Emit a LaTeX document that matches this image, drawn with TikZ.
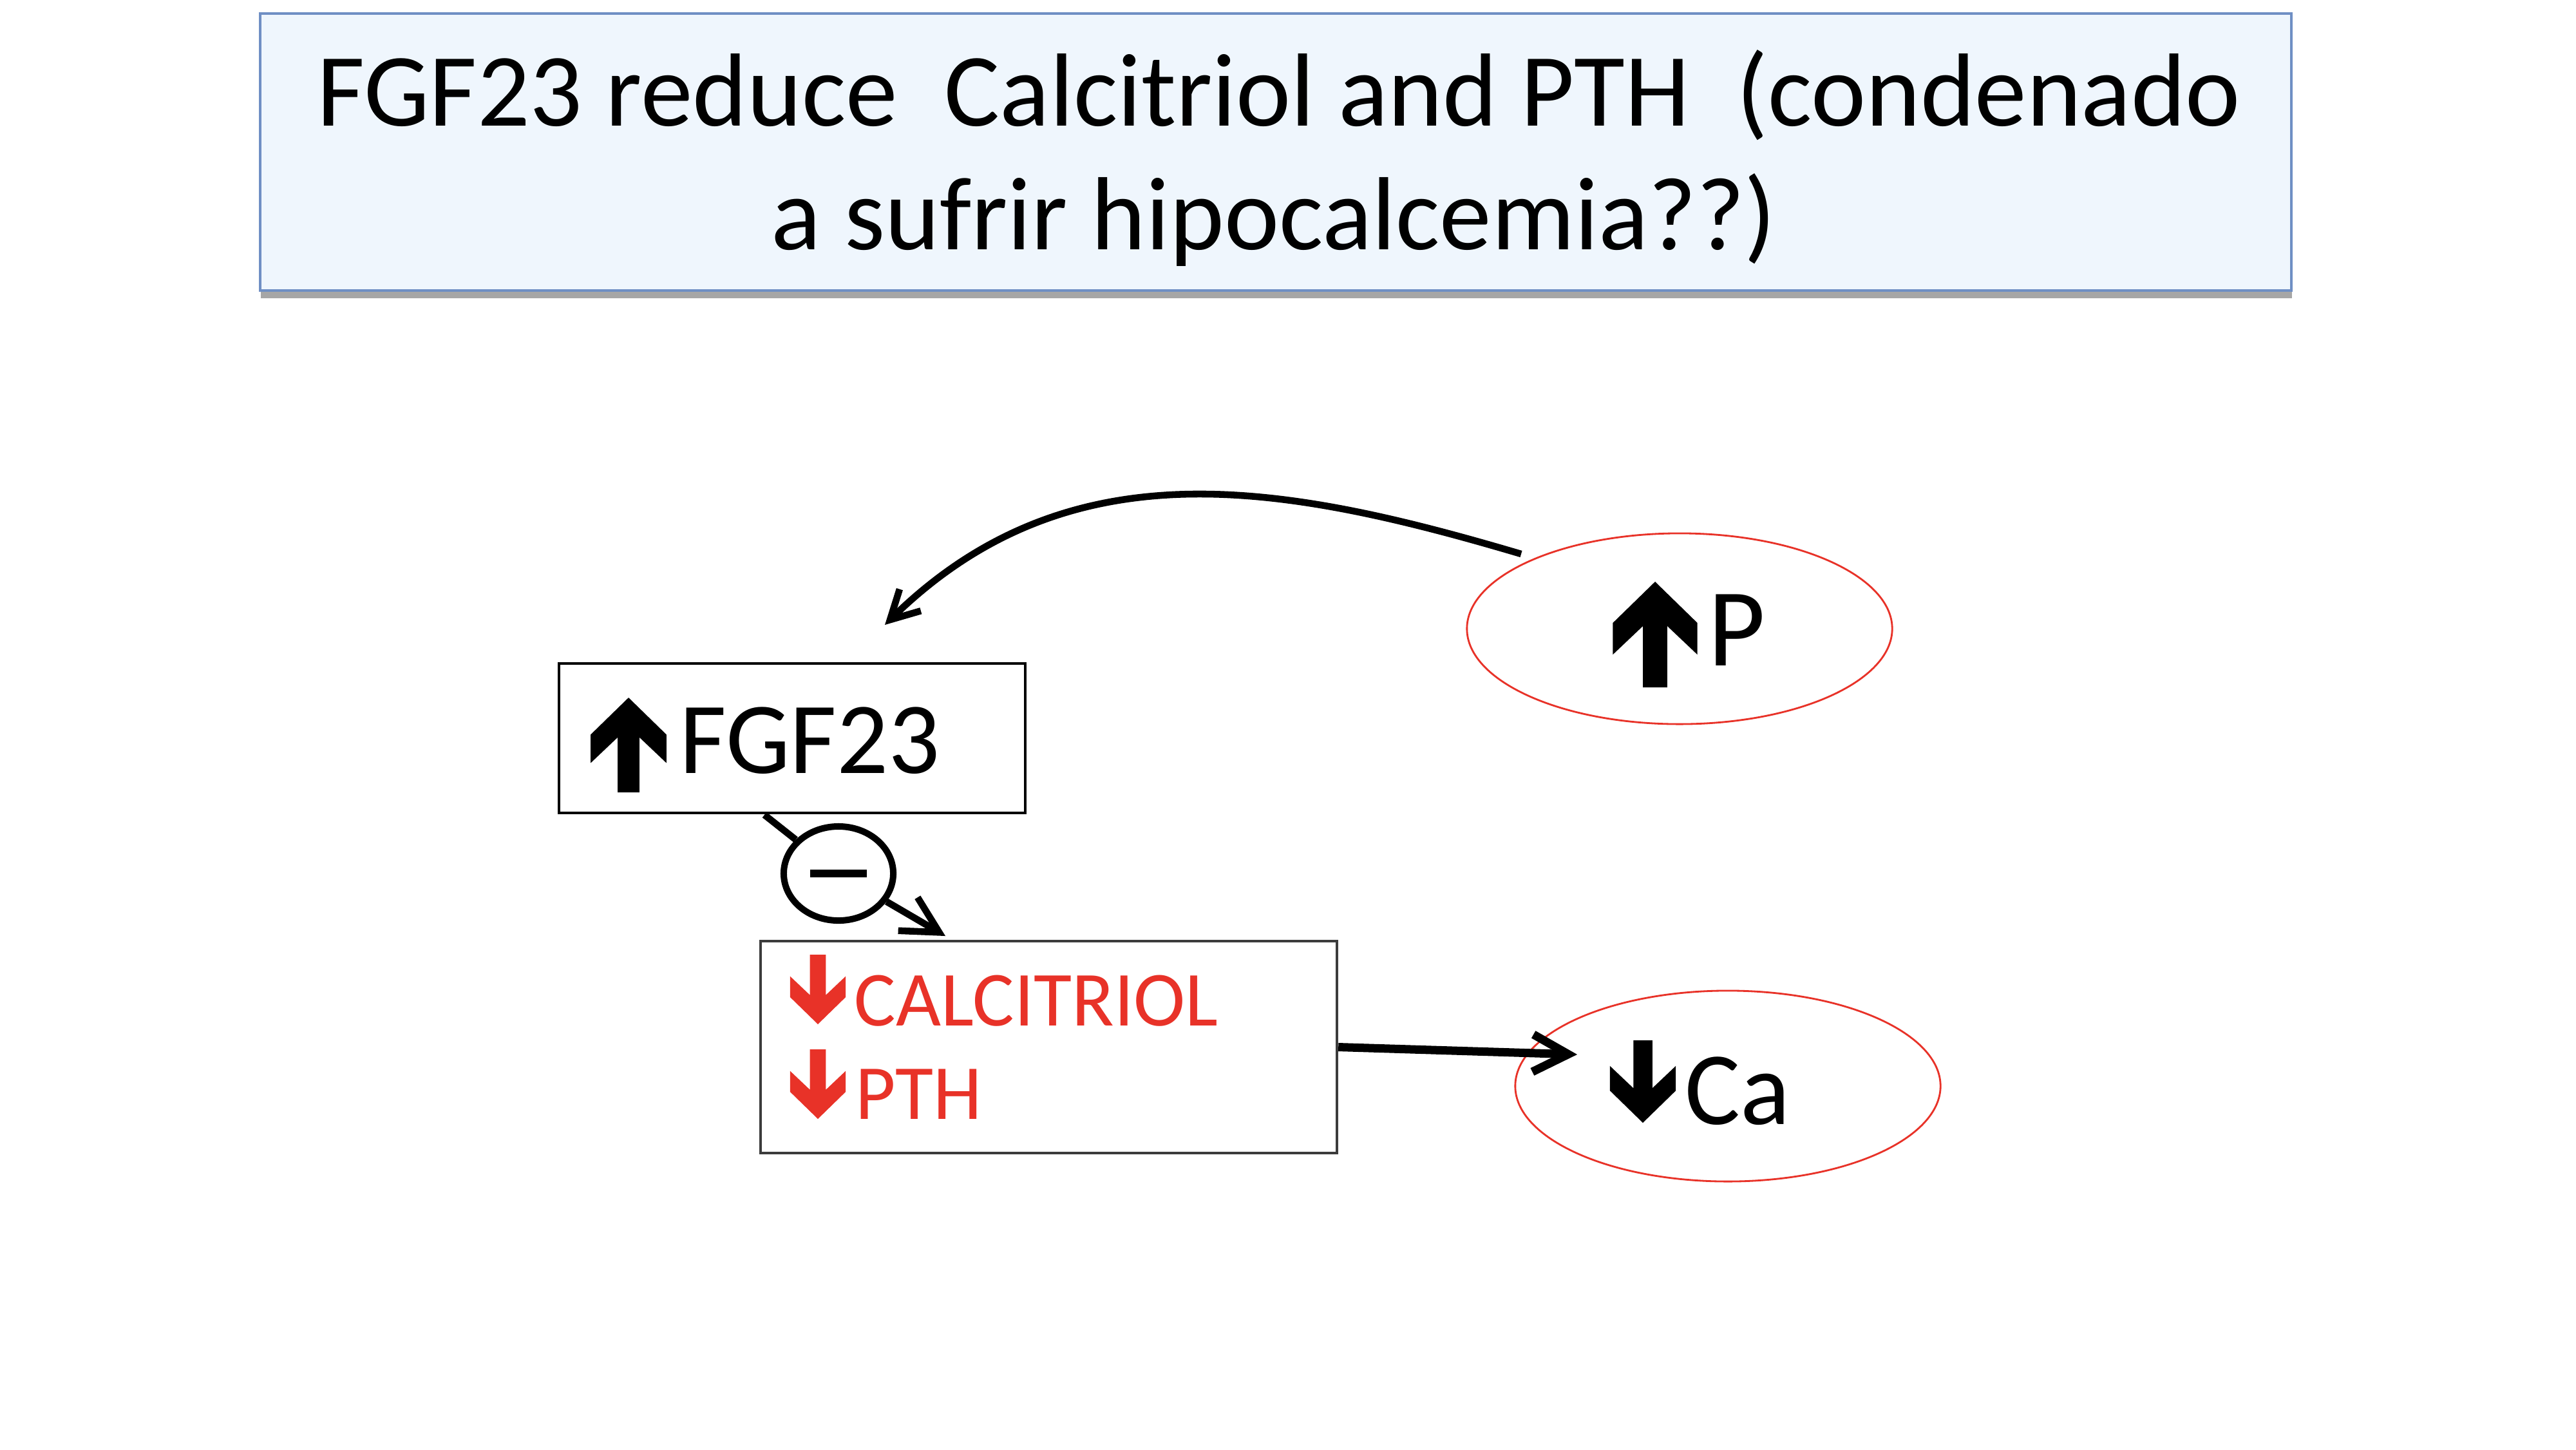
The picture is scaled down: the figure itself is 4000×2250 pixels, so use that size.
\documentclass[tikz,border=0pt]{standalone}
\usepackage{fontspec}
\setmainfont{Carlito}
\usetikzlibrary{arrows.meta,shapes.geometric}
\definecolor{redc}{RGB}{232,50,40}
\definecolor{titlefill}{RGB}{239,246,253}
\definecolor{titleline}{RGB}{111,143,196}
\definecolor{shadowc}{RGB}{166,166,166}
\definecolor{boxline}{RGB}{60,60,60}
\begin{document}
\begin{tikzpicture}[x=0.01cm,y=-0.01cm,
  titletext/.style={inner sep=0pt,font=\fontsize{45.9}{54}\selectfont},
  plainbox/.style={draw,rectangle,inner sep=0pt,line width=1pt},
  redellipse/.style={draw=redc,ellipse,inner sep=0pt,line width=0.8pt,minimum width=6.6cm,minimum height=2.96cm},
  conn/.style={line width=3pt},
  arrowglyph/.pic={\fill (0,0) -- (40,39) -- (40,69) -- (11.5,42) -- (11.5,100) -- (-11.5,100) -- (-11.5,42) -- (-40,69) -- (-40,39) -- cycle;}
]
\useasboundingbox (0,0) rectangle (4000,2250);
\fill[white] (0,0) rectangle (4000,2250);

% title
\fill[shadowc] (405,450) rectangle (3559,463);
\node[rectangle,fill=titlefill,draw=titleline,line width=1.2pt,minimum width=31.52cm,minimum height=4.30cm,inner sep=0pt] (titlebox) at (1981,236) {};
\node[titletext,anchor=base] (title1) at (1986,195) {FGF23 reduce\ \ Calcitriol and PTH\ \ (condenado};
\node[titletext,anchor=base] (title2) at (1978,387) {a sufrir hipocalcemia??)};

% FGF23 box
\node[plainbox,minimum width=7.24cm,minimum height=2.32cm] (fgfbox) at (1230,1146) {};
\pic[scale=1.47] (fgfarrow) at (976,1083) {arrowglyph};
\node[inner sep=0pt,anchor=base west,font=\fontsize{45}{50}\selectfont] (fgftext) at (1055,1200) {FGF23};

% Calcitriol / PTH box
\node[plainbox,draw=boxline,line width=1.1pt,minimum width=8.95cm,minimum height=3.29cm] (calbox) at (1628.5,1625.5) {};
\pic[redc,scale=1.08,yscale=-1] (calarrow) at (1270,1590) {arrowglyph};
\node[inner sep=0pt,anchor=base west,text=redc,font=\fontsize{34.4}{40}\selectfont] (caltext) at (1326,1592) {CALCITRIOL};
\pic[redc,scale=1.08,yscale=-1] (ptharrow) at (1270,1737) {arrowglyph};
\node[inner sep=0pt,anchor=base west,text=redc,font=\fontsize{34.4}{40}\selectfont] (pthtext) at (1328,1737) {PTH};

% P ellipse
\node[redellipse] (pnode) at (2608,976) {};
\pic[scale=1.64] (parrow) at (2570,903) {arrowglyph};
\node[inner sep=0pt,anchor=base west,font=\fontsize{49}{54}\selectfont] (ptext) at (2652,1033) {P};

% Ca ellipse
\node[redellipse] (canode) at (2683,1686) {};
\pic[scale=1.28,yscale=-1] (caarrow) at (2551,1743) {arrowglyph};
\node[inner sep=0pt,anchor=base west,font=\fontsize{45.9}{50}\selectfont] (catext) at (2616,1745) {Ca};

% inhibition circle
\node[draw,ellipse,line width=2.85pt,minimum width=1.70cm,minimum height=1.46cm,inner sep=0pt] (minus) at (1302,1356) {\rule{0.88cm}{0.12cm}};

% connectors
\coordinate (curvestart) at (2362,860);
\coordinate (curveend) at (1374,970);
\draw[conn,-{Straight Barb[length=12.5pt,width=13.4pt]}] (curvestart) .. controls (1990,750) and (1660,690) .. (curveend);

\coordinate (inhstart) at (1187,1265);
\draw[conn] (inhstart) -- (minus);
\coordinate (inhend) at (1468,1453);
\draw[conn,-{Straight Barb[length=16pt,width=17pt]}] (minus) -- (inhend);

\coordinate (caend) at (2449,1637);
\draw[line width=3.7pt,-{Straight Barb[length=15.6pt,width=16.5pt]}] (calbox.east) -- (caend);
\end{tikzpicture}
\end{document}
